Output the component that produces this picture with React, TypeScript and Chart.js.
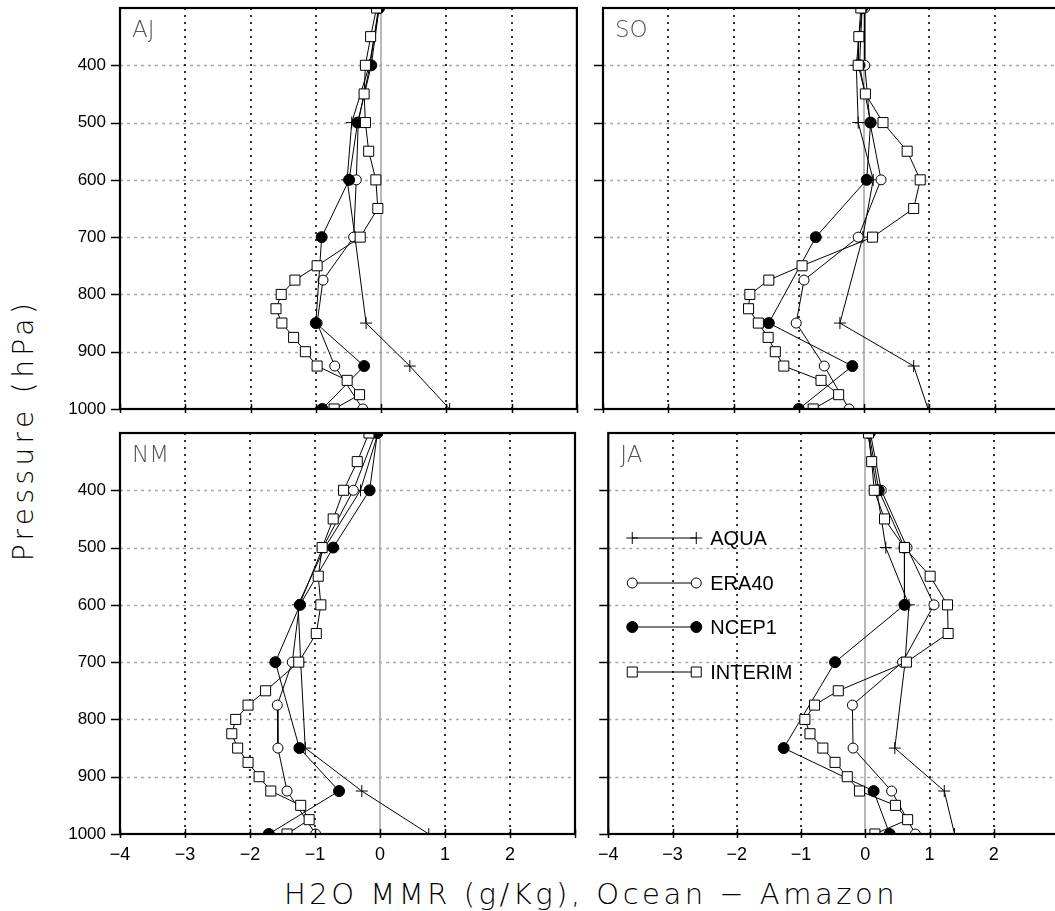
import React, { useEffect, useRef } from 'react';
import { Chart, registerables } from 'chart.js';

Chart.register(...registerables);

// Pressure levels (hPa)
const LEVELS_INTERIM = [300, 350, 400, 450, 500, 550, 600, 650, 700, 750, 775, 800, 825, 850, 875, 900, 925, 950, 975, 1000];
const LEVELS_ERA40 = [300, 400, 500, 600, 700, 775, 850, 925, 1000];
const LEVELS_STD = [300, 400, 500, 600, 700, 850, 925, 1000];

// AJ
const AJ_AQUA = [-0.03, -0.18, -0.45, -0.52, -0.40, -0.23, 0.44, 1.05];
const AJ_ERA40 = [-0.04, -0.17, -0.35, -0.38, -0.42, -0.89, -0.98, -0.71, -0.28];
const AJ_NCEP1 = [-0.03, -0.15, -0.36, -0.49, -0.91, -1.0, -0.26, -0.9];
const AJ_INTERIM = [-0.07, -0.16, -0.24, -0.26, -0.24, -0.19, -0.08, -0.05, -0.32, -0.98, -1.32, -1.53, -1.61, -1.52, -1.34, -1.16, -0.98, -0.52, -0.33, -0.72];

// SO
const SO_AQUA = [-0.03, -0.12, -0.09, 0.14, -0.02, -0.37, 0.76, 0.98];
const SO_ERA40 = [0.01, 0.01, 0.09, 0.26, -0.09, -0.92, -1.04, -0.61, -0.23];
const SO_NCEP1 = [-0.03, -0.07, 0.1, 0.04, -0.74, -1.46, -0.18, -1.0];
const SO_INTERIM = [-0.05, -0.08, -0.09, 0.02, 0.29, 0.66, 0.86, 0.76, 0.13, -0.95, -1.46, -1.75, -1.77, -1.62, -1.47, -1.36, -1.23, -0.66, -0.39, -0.78];

// NM
const NM_AQUA = [-0.03, -0.3, -0.85, -1.26, -1.22, -1.15, -0.28, 0.75];
const NM_ERA40 = [-0.07, -0.41, -0.88, -1.24, -1.35, -1.58, -1.57, -1.43, -0.99];
const NM_NCEP1 = [-0.04, -0.16, -0.72, -1.23, -1.61, -1.24, -0.63, -1.71];
const NM_INTERIM = [-0.17, -0.35, -0.56, -0.72, -0.89, -0.95, -0.91, -0.98, -1.25, -1.76, -2.03, -2.22, -2.28, -2.19, -2.03, -1.86, -1.68, -1.22, -1.09, -1.43];

// JA
const JA_AQUA = [0.04, 0.18, 0.32, 0.68, 0.62, 0.46, 1.23, 1.39];
const JA_ERA40 = [0.08, 0.25, 0.65, 1.07, 0.58, -0.2, -0.19, 0.41, 0.78];
const JA_NCEP1 = [0.06, 0.21, 0.61, 0.61, -0.47, -1.27, 0.13, 0.38];
const JA_INTERIM = [0.05, 0.1, 0.14, 0.3, 0.61, 1.01, 1.28, 1.29, 0.64, -0.42, -0.79, -0.94, -0.86, -0.66, -0.47, -0.28, -0.09, 0.47, 0.66, 0.15];

const SERIES_NAMES = ['AQUA', 'ERA40', 'NCEP1', 'INTERIM'];
const X_GRID_DOTTED = [-3, -2, -1, 1, 2];
const X_TICKS = [-4, -3, -2, -1, 0, 1, 2, 3];
const P_GRID = [400, 500, 600, 700, 800, 900];
const P_TICKS = [400, 500, 600, 700, 800, 900, 1000];

const X_TITLE = 'H2O MMR (g/Kg), Ocean \u2212 Amazon';
const Y_TITLE = 'Pressure (hPa)';

type Style = 'cross' | 'open' | 'filled' | 'rect';
const STYLES: Style[] = ['cross', 'open', 'filled', 'rect'];

function pts(levels: number[], vals: number[]) {
  return levels.map((p, i) => ({ x: vals[i], y: p }));
}

function makeDatasets(aqua: number[], era: number[], ncep: number[], interim: number[]) {
  const base = {
    showLine: true,
    borderColor: '#000',
    borderWidth: 1,
    pointBorderColor: '#000',
    pointBorderWidth: 1,
    tension: 0,
    clip: 0,
  };
  return [
    { ...base, label: 'INTERIM', data: pts(LEVELS_INTERIM, interim), pointStyle: 'rect', pointRadius: 7.1, pointBackgroundColor: '#fff', order: 0 },
    { ...base, label: 'NCEP1', data: pts(LEVELS_STD, ncep), pointStyle: 'circle', pointRadius: 5.5, pointBackgroundColor: '#000', order: 1 },
    { ...base, label: 'ERA40', data: pts(LEVELS_ERA40, era), pointStyle: 'circle', pointRadius: 5, pointBackgroundColor: '#fff', order: 2 },
    { ...base, label: 'AQUA', data: pts(LEVELS_STD, aqua), pointStyle: 'cross', pointRadius: 6, pointBackgroundColor: '#000', order: 3 },
  ];
}

function fmt(v: number) {
  return v < 0 ? '\u2212' + Math.abs(v) : String(v);
}

function drawMarker(ctx: CanvasRenderingContext2D, style: Style, x: number, y: number) {
  ctx.save();
  ctx.setLineDash([]);
  ctx.lineWidth = 1;
  ctx.strokeStyle = '#000';
  ctx.beginPath();
  if (style === 'cross') {
    ctx.moveTo(x - 6, y); ctx.lineTo(x + 6, y);
    ctx.moveTo(x, y - 6); ctx.lineTo(x, y + 6);
    ctx.stroke();
  } else if (style === 'open') {
    ctx.arc(x, y, 5, 0, Math.PI * 2);
    ctx.fillStyle = '#fff'; ctx.fill(); ctx.stroke();
  } else if (style === 'filled') {
    ctx.arc(x, y, 5.5, 0, Math.PI * 2);
    ctx.fillStyle = '#000'; ctx.fill(); ctx.stroke();
  } else {
    ctx.rect(x - 5, y - 5, 10, 10);
    ctx.fillStyle = '#fff'; ctx.fill(); ctx.stroke();
  }
  ctx.restore();
}

function panelPlugin(label: string, legend: boolean) {
  return {
    id: 'panelDeco',
    beforeDatasetsDraw(chart: any) {
      const { ctx, chartArea: a, scales } = chart;
      const x = scales.x, y = scales.y;
      ctx.save();
      // horizontal dashed grey grid
      ctx.strokeStyle = '#a8a8a8';
      ctx.lineWidth = 1.3;
      ctx.setLineDash([3, 4]);
      for (const p of P_GRID) {
        const py = Math.round(y.getPixelForValue(p)) + 0.5;
        ctx.beginPath(); ctx.moveTo(a.left, py); ctx.lineTo(a.right, py); ctx.stroke();
      }
      // vertical dotted black grid
      ctx.strokeStyle = '#000';
      ctx.lineWidth = 1.6;
      ctx.setLineDash([2, 5]);
      for (const v of X_GRID_DOTTED) {
        const px = Math.round(x.getPixelForValue(v));
        ctx.beginPath(); ctx.moveTo(px, a.top); ctx.lineTo(px, a.bottom); ctx.stroke();
      }
      // zero line
      ctx.setLineDash([]);
      ctx.strokeStyle = '#a0a0a0';
      ctx.lineWidth = 1.5;
      const zx = Math.round(x.getPixelForValue(0));
      ctx.beginPath(); ctx.moveTo(zx, a.top); ctx.lineTo(zx, a.bottom); ctx.stroke();
      // panel label
      ctx.fillStyle = '#555';
      ctx.font = '200 23px "DejaVu Sans", sans-serif';
      ctx.textBaseline = 'alphabetic';
      ctx.textAlign = 'left';
      ctx.fillText(label, a.left + 12, a.top + 29);
      ctx.restore();
    },
    afterDatasetsDraw(chart: any) {
      const { ctx, chartArea: a, scales } = chart;
      const x = scales.x, y = scales.y;
      ctx.save();
      ctx.setLineDash([]);
      ctx.strokeStyle = '#000';
      // tick marks
      ctx.lineWidth = 1.5;
      for (const p of P_TICKS) {
        const py = Math.round(y.getPixelForValue(p)) + 0.5;
        ctx.beginPath(); ctx.moveTo(a.left - 9, py); ctx.lineTo(a.left, py); ctx.stroke();
      }
      for (const v of X_TICKS) {
        const px = Math.round(x.getPixelForValue(v)) + 0.5;
        ctx.beginPath(); ctx.moveTo(px, a.bottom - 5); ctx.lineTo(px, a.bottom + 4); ctx.stroke();
      }
      // border
      ctx.lineWidth = 2.2;
      ctx.strokeRect(a.left, a.top, a.right - a.left, a.bottom - a.top);
      // legend
      if (legend) {
        const rows = [105, 150, 194, 239];
        ctx.font = '20px "Liberation Sans", Arial, sans-serif';
        ctx.fillStyle = '#000';
        ctx.textBaseline = 'middle';
        ctx.textAlign = 'left';
        SERIES_NAMES.forEach((name, i) => {
          const ly = a.top + rows[i];
          const x0 = a.left + 24, x1 = a.left + 88;
          ctx.lineWidth = 1;
          ctx.beginPath(); ctx.moveTo(x0, ly); ctx.lineTo(x1, ly); ctx.stroke();
          drawMarker(ctx, STYLES[i], x0, ly);
          drawMarker(ctx, STYLES[i], x1, ly);
          ctx.fillText(name, a.left + 102, ly + 1);
        });
      }
      ctx.restore();
    },
  };
}

type PanelProps = {
  label: string;
  aqua: number[]; era: number[]; ncep: number[]; interim: number[];
  left: number; top: number; yW: number;
  showY: boolean; showX: boolean; legend: boolean;
};

const PAD_TOP = 30;
const PAD_RIGHT = 5;
const X_H = 30;
const AREA_W = 460;
const AREA_H = 401;

function Panel(props: PanelProps) {
  const ref = useRef<HTMLCanvasElement | null>(null);
  const width = props.yW + AREA_W + PAD_RIGHT;
  const height = PAD_TOP + AREA_H + X_H;
  useEffect(() => {
    if (!ref.current) return;
    const chart = new Chart(ref.current, {
      type: 'scatter',
      data: { datasets: makeDatasets(props.aqua, props.era, props.ncep, props.interim) as any },
      options: {
        animation: false,
        responsive: false,
        maintainAspectRatio: false,
        events: [],
        layout: { padding: { top: PAD_TOP, right: PAD_RIGHT, left: 0, bottom: 0 } },
        plugins: { legend: { display: false }, tooltip: { enabled: false } },
        scales: {
          x: {
            type: 'linear', min: -4, max: 3,
            grid: { display: false, drawTicks: false },
            border: { display: false },
            ticks: {
              display: props.showX, stepSize: 1, padding: 10, color: '#000', maxRotation: 0, autoSkip: false,
              font: { family: '"Liberation Sans", Arial, sans-serif', size: 18 },
              callback: (v: any) => (v === 3 ? '' : fmt(Number(v))),
            },
            afterFit: (s: any) => { s.height = X_H; },
          },
          y: {
            type: 'linear', min: 300, max: 1000, reverse: true,
            grid: { display: false, drawTicks: false },
            border: { display: false },
            ticks: {
              display: props.showY, stepSize: 100, padding: 14, color: '#000', autoSkip: false,
              font: { family: '"Liberation Sans", Arial, sans-serif', size: 17 },
              callback: (v: any) => (v === 300 ? '' : String(v)),
            },
            afterFit: (s: any) => { s.width = props.yW; },
          },
        },
      } as any,
      plugins: [panelPlugin(props.label, props.legend) as any],
    });
    return () => chart.destroy();
  }, []);
  return (
    <canvas
      ref={ref}
      width={width}
      height={height}
      style={{ position: 'absolute', left: props.left - props.yW, top: props.top - PAD_TOP, width, height }}
    />
  );
}

export default function App() {
  const titleFont = '"DejaVu Sans", sans-serif';
  return (
    <div style={{ position: 'fixed', left: 0, top: 0, width: 1055, height: 911, overflow: 'hidden', background: '#fff' }}>
      <Panel label="AJ" aqua={AJ_AQUA} era={AJ_ERA40} ncep={AJ_NCEP1} interim={AJ_INTERIM}
        left={120} top={8} yW={60} showY={true} showX={false} legend={false} />
      <Panel label="SO" aqua={SO_AQUA} era={SO_ERA40} ncep={SO_NCEP1} interim={SO_INTERIM}
        left={603} top={8} yW={15} showY={false} showX={false} legend={false} />
      <Panel label="NM" aqua={NM_AQUA} era={NM_ERA40} ncep={NM_NCEP1} interim={NM_INTERIM}
        left={120} top={433} yW={60} showY={true} showX={true} legend={false} />
      <Panel label="JA" aqua={JA_AQUA} era={JA_ERA40} ncep={JA_NCEP1} interim={JA_INTERIM}
        left={603} top={433} yW={15} showY={false} showX={true} legend={true} />
      <div style={{
        position: 'absolute', left: 591, top: 877, transform: 'translateX(-50%)',
        fontFamily: titleFont, fontWeight: 200, fontSize: 29, letterSpacing: 3.5, whiteSpace: 'nowrap', color: '#000',
      }}>{X_TITLE}</div>
      <div style={{
        position: 'absolute', left: 23, top: 430, transform: 'translate(-50%, -50%) rotate(-90deg)',
        fontFamily: titleFont, fontWeight: 200, fontSize: 28, letterSpacing: 4.4, whiteSpace: 'nowrap', color: '#000',
      }}>{Y_TITLE}</div>
    </div>
  );
}
